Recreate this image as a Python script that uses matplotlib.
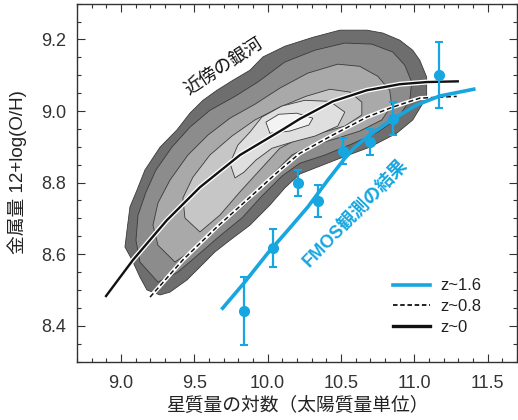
import numpy as np
import matplotlib
matplotlib.use('Agg')
import matplotlib.pyplot as plt
import matplotlib.patheffects as pe
from matplotlib.lines import Line2D
from matplotlib.ticker import MultipleLocator

plt.rcParams['font.family'] = ['Liberation Sans', 'Noto Sans CJK JP']

# FMOS z~1.6 stacked points
fmos_mass = [9.838, 10.035, 10.204, 10.344, 10.514, 10.696, 10.855, 11.168]
fmos_oh = [8.442, 8.616, 8.799, 8.748, 8.889, 8.914, 8.979, 9.100]
fmos_err = [0.095, 0.053, 0.037, 0.044, 0.037, 0.037, 0.047, 0.092]

# fitted relations
z16_mass = [9.693, 9.838, 10.001, 10.138, 10.274, 10.410, 10.526, 10.594, 10.696, 10.853, 11.016, 11.173, 11.405]
z16_oh = [8.449, 8.519, 8.603, 8.667, 8.732, 8.807, 8.868, 8.899, 8.933, 8.977, 9.017, 9.042, 9.061]

z08_mass = [9.198, 9.422, 9.654, 9.879, 10.083, 10.219, 10.444, 10.676, 10.853, 11.037, 11.289]
z08_oh = [8.480, 8.584, 8.676, 8.759, 8.835, 8.882, 8.933, 8.983, 9.011, 9.036, 9.041]

z0_mass = [8.898, 9.082, 9.313, 9.538, 9.811, 10.097, 10.219, 10.444, 10.676, 10.901, 11.084, 11.296]
z0_oh = [8.483, 8.584, 8.695, 8.787, 8.877, 8.947, 8.978, 9.027, 9.058, 9.075, 9.081, 9.083]

# local galaxies: contour outlines, outermost first
sdss_c0 = [(9.266, 8.486), (9.177, 8.500), (9.129, 8.536), (9.075, 8.584), (9.027, 8.620),
           (9.041, 8.667), (9.061, 8.732), (9.109, 8.779), (9.163, 8.835), (9.266, 8.899),
           (9.381, 8.947), (9.470, 8.994), (9.559, 9.030), (9.654, 9.058), (9.763, 9.086),
           (9.879, 9.114), (9.967, 9.151), (10.117, 9.181), (10.308, 9.206), (10.492, 9.226),
           (10.676, 9.226), (10.785, 9.218), (10.901, 9.198), (10.989, 9.170), (11.037, 9.142),
           (11.084, 9.095), (11.084, 9.039), (10.989, 8.975), (10.880, 8.938), (10.696, 8.899),
           (10.512, 8.871), (10.356, 8.846), (10.219, 8.824), (10.117, 8.785), (10.015, 8.737),
           (9.879, 8.681), (9.743, 8.639), (9.640, 8.606), (9.538, 8.564), (9.450, 8.528),
           (9.334, 8.494)]
sdss_c1 = [(9.252, 8.522), (9.129, 8.578), (9.102, 8.639), (9.116, 8.709), (9.170, 8.773),
           (9.238, 8.835), (9.347, 8.899), (9.470, 8.955), (9.606, 9.002), (9.777, 9.041),
           (9.933, 9.081), (10.117, 9.137), (10.322, 9.170), (10.526, 9.190), (10.710, 9.187),
           (10.853, 9.165), (10.935, 9.128), (10.982, 9.081), (10.969, 9.030), (10.887, 8.980),
           (10.751, 8.941), (10.574, 8.908), (10.390, 8.877), (10.219, 8.854), (10.097, 8.818),
           (9.960, 8.762), (9.824, 8.701), (9.674, 8.651), (9.525, 8.598), (9.388, 8.550)]
sdss_c2 = [(9.368, 8.578), (9.252, 8.625), (9.218, 8.681), (9.252, 8.743), (9.334, 8.807),
           (9.456, 8.877), (9.593, 8.933), (9.743, 8.980), (9.913, 9.019), (10.083, 9.064),
           (10.274, 9.106), (10.478, 9.131), (10.628, 9.125), (10.751, 9.097), (10.832, 9.058),
           (10.846, 9.016), (10.778, 8.975), (10.628, 8.944), (10.458, 8.922), (10.287, 8.902),
           (10.165, 8.877), (10.029, 8.821), (9.879, 8.751), (9.708, 8.690), (9.538, 8.625)]
sdss_c3 = [(9.538, 8.662), (9.436, 8.701), (9.422, 8.757), (9.490, 8.815), (9.606, 8.877),
           (9.756, 8.930), (9.913, 8.975), (10.083, 9.011), (10.260, 9.041), (10.424, 9.061),
           (10.560, 9.053), (10.642, 9.025), (10.642, 8.989), (10.526, 8.958), (10.356, 8.938),
           (10.206, 8.922), (10.083, 8.896), (9.960, 8.841), (9.811, 8.774), (9.674, 8.709)]
sdss_c4 = [(9.777, 8.813), (9.743, 8.854), (9.797, 8.905), (9.879, 8.941), (9.960, 8.983),
           (10.097, 9.014), (10.253, 9.030), (10.424, 9.027), (10.526, 8.997), (10.478, 8.958),
           (10.322, 8.930), (10.165, 8.913), (10.029, 8.896), (9.920, 8.863), (9.838, 8.829)]
sdss_c5 = [(9.988, 8.969), (10.076, 8.991), (10.199, 8.994), (10.308, 8.980), (10.281, 8.961),
           (10.151, 8.944), (10.015, 8.938)]

blue = '#17a6e0'

fig = plt.figure(figsize=(5.18, 4.2), dpi=100)
ax = fig.add_axes([77 / 518, 58.5 / 420, 440 / 518, 357.8 / 420])

shades = ['#6e6e6e', '#8c8c8c', '#a9a9a9', '#c6c6c6', '#dfdfdf', '#f3f3f3']
for poly, c in zip([sdss_c0, sdss_c1, sdss_c2, sdss_c3, sdss_c4, sdss_c5], shades):
    xs, ys = zip(*poly)
    ax.fill(xs, ys, facecolor=c, edgecolor='#3a3a3a', linewidth=0.6, zorder=1)

# z~0 and z~0.8 with white borders
ax.plot(z0_mass, z0_oh, color='#111111', lw=1.7, zorder=3,
        path_effects=[pe.Stroke(linewidth=3.6, foreground='white'), pe.Normal()])
ax.plot(z08_mass, z08_oh, color='white', lw=3.0, zorder=3)
ax.plot(z08_mass, z08_oh, color='#111111', lw=1.1, dashes=(3.2, 1.8), zorder=3)

ax.plot(z16_mass, z16_oh, color=blue, lw=2.6, zorder=4)
ax.errorbar(fmos_mass, fmos_oh, yerr=fmos_err, fmt='o', color=blue, ms=7,
            elinewidth=1.6, capsize=2.6, capthick=1.5, zorder=5)

ax.text(9.70, 9.125, '近傍の銀河', rotation=33, ha='center', va='center',
        fontsize=13, color='#111111', rotation_mode='anchor')
ax.text(10.594, 8.714, 'FMOS観測の結果', rotation=46, ha='center', va='center',
        fontsize=13, color=blue, fontweight='bold', rotation_mode='anchor')

handles = [Line2D([], [], color=blue, lw=2.6),
           Line2D([], [], color='#111111', lw=1.3, dashes=(2.5, 1.5)),
           Line2D([], [], color='#111111', lw=2.4)]
ax.legend(handles, ['z~1.6', 'z~0.8', 'z~0'], loc='upper left',
          bbox_to_anchor=(0.718, 0.232), frameon=False, fontsize=12,
          handlelength=2.2, handletextpad=0.65, labelspacing=0.35,
          borderpad=0, borderaxespad=0, labelcolor='#222222')

ax.set_xlim(8.7, 11.7)
ax.set_ylim(8.3, 9.3)
ax.xaxis.set_major_locator(MultipleLocator(0.5))
ax.xaxis.set_minor_locator(MultipleLocator(0.1))
ax.yaxis.set_major_locator(MultipleLocator(0.2))
ax.yaxis.set_minor_locator(MultipleLocator(0.05))
ax.xaxis.set_major_formatter(plt.FormatStrFormatter('%.1f'))
ax.yaxis.set_major_formatter(plt.FormatStrFormatter('%.1f'))
ax.tick_params(which='both', direction='in', top=True, right=True,
               color='#333333', width=0.8, labelcolor='#333333', labelsize=13)
ax.tick_params(which='major', length=5.8)
ax.tick_params(which='minor', length=3)
ax.tick_params(axis='x', pad=10)
ax.tick_params(axis='y', pad=8)
for s in ax.spines.values():
    s.set_color('#333333')
    s.set_linewidth(1.0)

ax.set_xlabel('星質量の対数（太陽質量単位）', fontsize=13.5, color='#222222')
ax.set_ylabel('金属量 12+log(O/H)', fontsize=13.5, color='#222222')
ax.xaxis.set_label_coords(0.5, -0.10)
ax.yaxis.set_label_coords(-0.114, 0.53)

fig.savefig('out.png', dpi=100)
